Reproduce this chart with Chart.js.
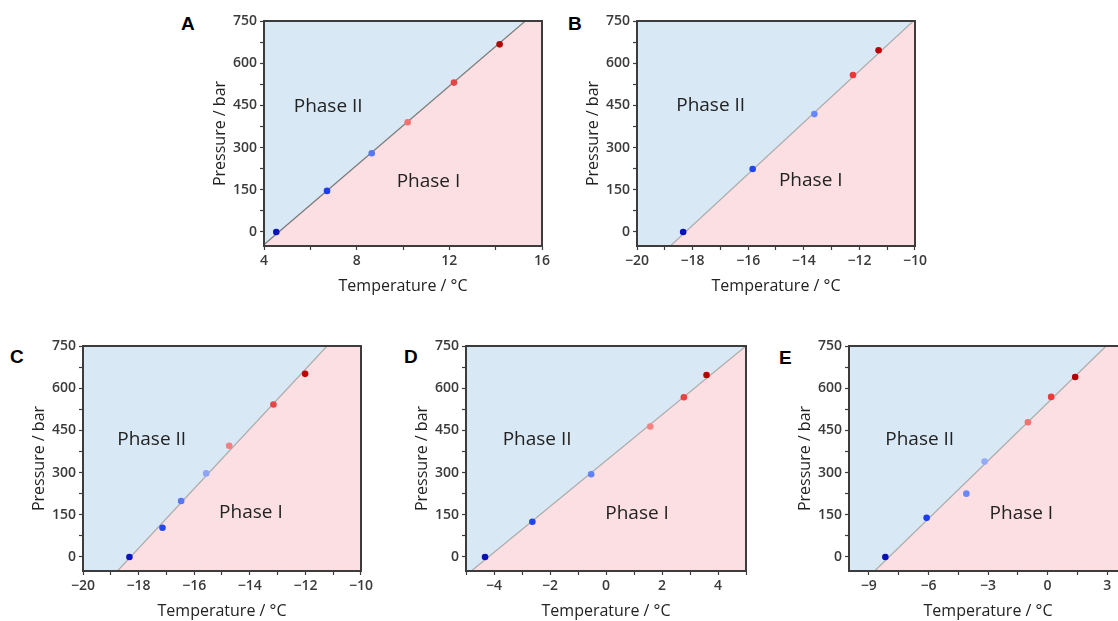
<!DOCTYPE html>
<html>
<head>
<meta charset="utf-8">
<script src="https://cdn.jsdelivr.net/npm/chart.js@4.4.1/dist/chart.umd.min.js"></script>
<style>
  html, body { margin: 0; padding: 0; background: #fff; }
  body { position: relative; width: 1118px; height: 621px; overflow: hidden; }
  canvas { position: absolute; }
  .tag { position: absolute; font: bold 19px "Liberation Sans", Arial, sans-serif; color: #000; line-height: 19px; }
</style>
</head>
<body>
<div class="tag" style="left:181px;top:14px">A</div>
<div class="tag" style="left:568px;top:14px">B</div>
<div class="tag" style="left:10px;top:347px">C</div>
<div class="tag" style="left:404px;top:347px">D</div>
<div class="tag" style="left:779px;top:348px">E</div>

<canvas id="chartA"></canvas>
<canvas id="chartB"></canvas>
<canvas id="chartC"></canvas>
<canvas id="chartD"></canvas>
<canvas id="chartE"></canvas>

<script>
// Transition points (temperature in °C, pressure in bar) for each run
const tempA = [4.53, 6.72, 8.65, 10.2, 12.2, 14.17];
const presA = [0, 146, 280, 390, 531, 667];
const tempB = [-18.34, -15.84, -13.62, -12.23, -11.31];
const presB = [0, 224, 419, 558, 646];
const tempC = [-18.33, -17.14, -16.47, -15.57, -14.74, -13.15, -12.01];
const presC = [0, 104, 199, 297, 395, 542, 651];
const tempD = [-4.32, -2.63, -0.53, 1.58, 2.78, 3.59];
const presD = [0, 125, 294, 464, 568, 647];
const tempE = [-8.17, -6.09, -4.09, -3.17, -0.99, 0.18, 1.39];
const presE = [0, 139, 225, 339, 479, 569, 640];

// Phase boundary: temperatures where the fitted line crosses boundPres
const boundPres = [-50, 750];
const boundA = [3.93, 15.28];
const boundB = [-18.8, -10.06];
const boundC = [-18.76, -11.22];
const boundD = [-4.81, 5.0];
const boundE = [-8.71, 2.95];

// Marker colours, cold (blue) to warm (red)
const colorsA = ['#0812b8', '#1e3cf0', '#5777f2', '#f07272', '#e54444', '#ad0a0a'];
const colorsB = ['#0812b8', '#2345ee', '#6688f8', '#ee3636', '#b80404'];
const colorsC = ['#0a14c4', '#2646f0', '#5a78f2', '#8fa4f6', '#f28080', '#e84646', '#bf0404'];
const colorsD = ['#0812b8', '#2244f0', '#6282f6', '#f28282', '#e84242', '#b60404'];
const colorsE = ['#0812b8', '#1c3cf0', '#6a88f5', '#93aaf8', '#f07272', '#ee3a3a', '#b00404'];

// Axis ticks
const yMajor = [0, 150, 300, 450, 600, 750];
const yMinor = [75, 225, 375, 525, 675];
const xMajorA = [4, 8, 12, 16];
const xMinorA = [6, 10, 14];
const xMajorB = [-20, -18, -16, -14, -12, -10];
const xMinorB = [-19, -17, -15, -13, -11];
const xMajorD = [-4, -2, 0, 2, 4];
const xMinorD = [-5, -3, -1, 1, 3, 5];
const xMajorE = [-9, -6, -3, 0, 3];
const xMinorE = [-7.5, -4.5, -1.5, 1.5];

const phaseLabels = ['Phase II', 'Phase I'];

const BLUE_FILL = '#d9e8f5';
const PINK_FILL = '#fcdfe3';
const FRAME = '#3c3c3c';
const FONT = '"Open Sans", "DejaVu Sans", sans-serif';

// Canvas margins around the plot box
const AXIS_W = 56, PAD_TOP = 12, PAD_RIGHT = 14, AXIS_H = 52;

const panels = [
  { id: 'chartA', temp: tempA, pres: presA, colors: colorsA, bound: boundA,
    xMin: 4, xMax: 16, xMajor: xMajorA, xMinor: xMinorA, lineColor: '#7c7c7c',
    box: [264, 21, 278, 225], labelAt: [[6.77, 447], [11.1, 178]] },
  { id: 'chartB', temp: tempB, pres: presB, colors: colorsB, bound: boundB,
    xMin: -20, xMax: -10, xMajor: xMajorB, xMinor: xMinorB, lineColor: '#ababab',
    box: [637, 21, 279, 225], labelAt: [[-17.35, 450], [-13.75, 184]] },
  { id: 'chartC', temp: tempC, pres: presC, colors: colorsC, bound: boundC,
    xMin: -20, xMax: -10, xMajor: xMajorB, xMinor: xMinorB, lineColor: '#ababab',
    box: [83, 346, 279, 225], labelAt: [[-17.53, 417], [-13.96, 158]] },
  { id: 'chartD', temp: tempD, pres: presD, colors: colorsD, bound: boundD,
    xMin: -5, xMax: 5, xMajor: xMajorD, xMinor: xMinorD, lineColor: '#ababab',
    box: [466, 346, 280, 225], labelAt: [[-2.46, 417], [1.11, 155]] },
  { id: 'chartE', temp: tempE, pres: presE, colors: colorsE, bound: boundE,
    xMin: -10, xMax: 4, xMajor: xMajorE, xMinor: xMinorE, lineColor: '#ababab',
    box: [849, 346, 278, 225], labelAt: [[-6.44, 417], [-1.32, 155]] }
];

const fmt = v => (v < 0 ? '\u2212' + Math.abs(v) : String(v));

// Shades the two phase regions and writes the phase names, then frames the plot
const phaseMap = {
  id: 'phaseMap',
  beforeDatasetsDraw(chart, args, opts) {
    const { ctx, chartArea: a, scales: { x, y } } = chart;
    const xb = x.getPixelForValue(opts.bound[0]), yb = y.getPixelForValue(boundPres[0]);
    const xt = x.getPixelForValue(opts.bound[1]), yt = y.getPixelForValue(boundPres[1]);
    ctx.save();
    ctx.beginPath();
    ctx.rect(a.left, a.top, a.width, a.height);
    ctx.clip();
    ctx.fillStyle = BLUE_FILL;
    ctx.beginPath();
    ctx.moveTo(a.left - 500, yt);
    ctx.lineTo(xt, yt);
    ctx.lineTo(xb, yb);
    ctx.lineTo(a.left - 500, yb);
    ctx.closePath();
    ctx.fill();
    ctx.fillStyle = PINK_FILL;
    ctx.beginPath();
    ctx.moveTo(xt, yt);
    ctx.lineTo(a.right + 500, yt);
    ctx.lineTo(a.right + 500, yb);
    ctx.lineTo(xb, yb);
    ctx.closePath();
    ctx.fill();
    ctx.restore();
  },
  afterDatasetsDraw(chart, args, opts) {
    const { ctx, chartArea: a, scales: { x, y } } = chart;
    ctx.save();
    ctx.font = '19px ' + FONT;
    ctx.fillStyle = '#222';
    ctx.textAlign = 'center';
    ctx.textBaseline = 'middle';
    opts.labelAt.forEach((p, i) => {
      ctx.fillText(phaseLabels[i], x.getPixelForValue(p[0]), y.getPixelForValue(p[1]));
    });
    ctx.strokeStyle = FRAME;
    ctx.lineWidth = 2;
    ctx.strokeRect(a.left, a.top, a.width, a.height);
    ctx.restore();
  }
};

function makeChart(p) {
  const [left, top, w, h] = p.box;
  const cv = document.getElementById(p.id);
  cv.width = AXIS_W + w + PAD_RIGHT;
  cv.height = PAD_TOP + h + AXIS_H;
  cv.style.left = (left - AXIS_W) + 'px';
  cv.style.top = (top - PAD_TOP) + 'px';

  const points = p.temp.map((t, i) => ({ x: t, y: p.pres[i] }));
  const boundary = p.bound.map((t, i) => ({ x: t, y: boundPres[i] }));
  const xTicks = p.xMajor.concat(p.xMinor).sort((a, b) => a - b);
  const yTicks = yMajor.concat(yMinor).sort((a, b) => a - b);
  const tickFont = { family: FONT, size: 14, weight: '600' };

  return new Chart(cv, {
    type: 'scatter',
    data: {
      datasets: [
        { data: points, pointRadius: 3.3, pointHoverRadius: 3.3, borderWidth: 0,
          pointBackgroundColor: p.colors, pointBorderColor: p.colors },
        { data: boundary, showLine: true, pointRadius: 0, borderColor: p.lineColor,
          borderWidth: 1.2, fill: false }
      ]
    },
    options: {
      responsive: false,
      animation: false,
      devicePixelRatio: 1,
      layout: { padding: { left: 0, top: PAD_TOP, right: PAD_RIGHT, bottom: 0 } },
      plugins: {
        legend: { display: false },
        tooltip: { enabled: false },
        phaseMap: { bound: p.bound, labelAt: p.labelAt }
      },
      scales: {
        x: {
          type: 'linear', min: p.xMin, max: p.xMax,
          afterBuildTicks: s => { s.ticks = xTicks.map(v => ({ value: v })); },
          afterFit: s => { s.height = AXIS_H; },
          grid: { drawOnChartArea: false, tickLength: 4, tickColor: FRAME, tickWidth: 1.2 },
          border: { color: FRAME, width: 2 },
          ticks: {
            autoSkip: false, maxRotation: 0, padding: 3, color: '#3a3a3a',
            font: tickFont,
            callback: v => (p.xMajor.includes(v) ? fmt(v) : '')
          },
          title: { display: true, text: 'Temperature / °C', color: '#222',
            font: { family: FONT, size: 16 }, padding: { top: 0, bottom: 2 } }
        },
        y: {
          type: 'linear', min: -50, max: 750,
          afterBuildTicks: s => { s.ticks = yTicks.map(v => ({ value: v })); },
          afterFit: s => { s.width = AXIS_W; },
          grid: { drawOnChartArea: false, tickLength: 4, tickColor: FRAME, tickWidth: 1.2 },
          border: { color: FRAME, width: 2 },
          ticks: {
            autoSkip: false, padding: 3, color: '#3a3a3a',
            font: tickFont,
            callback: v => (yMajor.includes(v) ? fmt(v) : '')
          },
          title: { display: true, text: 'Pressure / bar', color: '#222',
            font: { family: FONT, size: 16 }, padding: { top: 3, bottom: 0 } }
        }
      }
    },
    plugins: [phaseMap]
  });
}

panels.forEach(makeChart);
</script>
</body>
</html>
